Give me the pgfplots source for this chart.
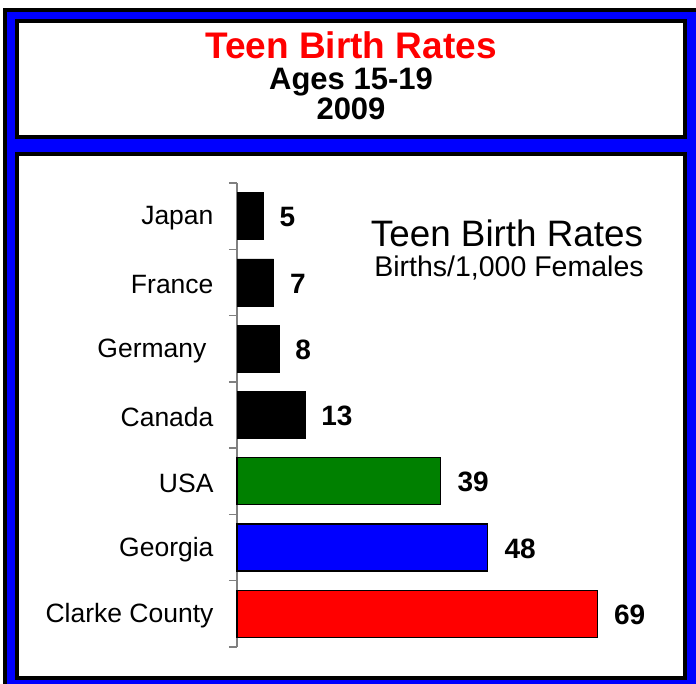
\documentclass[border=0pt]{standalone}
\usepackage{pgfplots}
\pgfplotsset{compat=1.18}
\usepackage{fontspec}
\setmainfont{Liberation Sans}
\definecolor{bargreen}{RGB}{0,128,0}
\definecolor{barblue}{RGB}{0,0,255}
\definecolor{barred}{RGB}{255,0,0}
\definecolor{frameblue}{RGB}{0,0,255}
\begin{document}
\begin{tikzpicture}
\clip (0pt,0pt) rectangle (696pt,684pt);
\fill[black] (3pt,-50pt) rectangle (750pt,676pt);
\fill[frameblue] (7pt,-50pt) rectangle (750pt,672pt);
\fill[black] (15pt,545pt) rectangle (687pt,665pt);
\fill[white] (19pt,549pt) rectangle (683pt,661pt);
\fill[black] (15pt,4pt) rectangle (687pt,532pt);
\fill[white] (19pt,8pt) rectangle (683pt,528pt);
\node[anchor=base,text=red,font=\bfseries\fontsize{37}{40}\selectfont,inner sep=0] at (351pt,625pt) {Teen Birth Rates};
\node[anchor=base,font=\bfseries\fontsize{31}{34}\selectfont,inner sep=0] at (351pt,594pt) {Ages 15-19};
\node[anchor=base,font=\bfseries\fontsize{31}{34}\selectfont,inner sep=0] at (351pt,564pt) {2009};
\begin{axis}[
  at={(237pt,37pt)}, anchor=south west,
  scale only axis, width=417.6pt, height=464pt,
  xmin=0, xmax=80, ymin=-0.5, ymax=6.5, y dir=reverse,
  hide x axis,
  axis y line*=left,
  y axis line style={draw=gray, line width=1.5pt, -},
  ytick={0,...,6},
  yticklabels={Japan,France,Germany\hspace*{7pt},Canada,USA,Georgia,Clarke County},
  major tick length=0pt,
  minor ytick={-0.5,0.5,1.5,2.5,3.5,4.5,5.5,6.5},
  minor tick length=8pt,
  tick align=outside,
  ytick pos=left,
  minor tick style={draw=gray, line width=1.5pt},
  yticklabel style={font=\fontsize{26.5}{30}\selectfont, xshift=-20pt, yshift=-2pt},
  xbar, bar shift=0pt, bar width=47pt,
  nodes near coords={\pgfmathprintnumber[assume math mode=true]{\pgfplotspointmeta}},
  nodes near coords style={font=\bfseries\fontsize{28}{30}\selectfont, xshift=13pt, yshift=-1pt},
  clip=false,
]
\addplot[fill=black, draw=black] coordinates {(5,0) (7,1) (8,2) (13,3)};
\addplot[fill=bargreen, draw=black, line width=1.3pt] coordinates {(39,4)};
\addplot[fill=barblue, draw=black, line width=1.3pt] coordinates {(48,5)};
\addplot[fill=barred, draw=black, line width=1.3pt] coordinates {(69,6)};
\end{axis}
\node[anchor=base,font=\fontsize{36.8}{40}\selectfont,inner sep=0] at (507pt,437pt) {Teen Birth Rates};
\node[anchor=base,font=\fontsize{28.5}{30}\selectfont,inner sep=0] at (509pt,407pt) {Births/1,000 Females};
\end{tikzpicture}
\end{document}
